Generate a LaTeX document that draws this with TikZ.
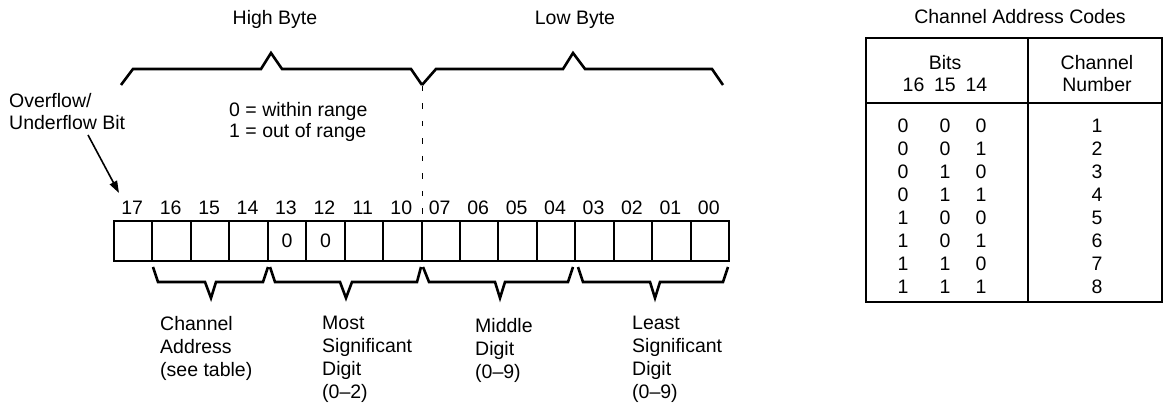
\documentclass[tikz,border=0pt]{standalone}
\usepackage{fontspec}
\setmainfont{Liberation Sans}
\usetikzlibrary{arrows.meta}
\begin{document}
\begin{tikzpicture}[x=1pt,y=-1pt,
  lbl/.style={font=\fontsize{19.5}{23}\selectfont, inner sep=0pt},
  mlbl/.style={lbl, align=left, anchor=north west},
  bitbox/.style={draw, line width=2pt, minimum width=38.44pt, minimum height=40pt, inner sep=0pt, anchor=north west},
  brace/.style={line width=2.6pt, line join=miter},
  tbl/.style={line width=2pt}]
\useasboundingbox (0,0) rectangle (1163,406);
% titles
\node[lbl, anchor=base] (hb) at (275,25) {High Byte};
\node[lbl, anchor=base] (lb) at (575,25) {Low Byte};
% top braces
\draw[brace] (121,85) -- (133,69) -- (261,69) -- (271,53) -- (282,69) -- (411,69) -- (422,85);
\draw[brace] (422,85) -- (436,69) -- (563,69) -- (573,53) -- (585,69) -- (712,69) -- (723,85);
% range text
\node[lbl, align=left, anchor=north west, font=\fontsize{19.5}{21.5}\selectfont] (rng) at (229,101.8) {0 = within range\\1 = out of range};
% overflow label
\node[lbl, align=left, anchor=north west, font=\fontsize{19.5}{22}\selectfont] (ovf) at (9,93) {Overflow/\\Underflow Bit};
\coordinate (arrs) at (88,135);
\coordinate (arre) at (119,193);
\draw[line width=1.6pt, -{Triangle[length=12pt,width=8pt]}] (arrs) -- (arre);
% dashed separator
\coordinate (dtop) at (422,86);
\coordinate (dbot) at (422,219);
\draw[line width=1pt, dash pattern=on 5.5pt off 12pt] (dtop) -- (dbot);
% bit boxes
\foreach \lab [count=\i from 0] in {17,16,15,14,13,12,11,10,07,06,05,04,03,02,01,00} {
  \node[bitbox] (b\lab) at ({113+38.44*\i},220) {};
  \node[lbl, anchor=base] (n\lab) at ({113+38.44*(\i+0.5)},215) {\lab};
}
\node[lbl] (z13) at (b13.center) {0};
\node[lbl] (z12) at (b12.center) {0};
% bottom braces
\draw[brace] (153,267) -- (158,282) -- (205,282) -- (211,298) -- (216,282) -- (263,282) -- (268,267);
\draw[brace] (270,267) -- (275,282) -- (340,282) -- (346,298) -- (352,282) -- (417,282) -- (421,267);
\draw[brace] (423,267) -- (429,282) -- (495,282) -- (500,298) -- (505,282) -- (568,282) -- (573,267);
\draw[brace] (578,267) -- (583,282) -- (650,282) -- (655,298) -- (660,282) -- (723,282) -- (728,267);
% bottom labels
\node[mlbl] (chad) at (160,315.8) {Channel\\Address\\(see table)};
\node[mlbl] (msd) at (322,315.8) {Most\\Significant\\Digit\\(0--2)};
\node[mlbl] (mid) at (475,317.8) {Middle\\Digit\\(0--9)};
\node[mlbl] (lsd) at (632,315.8) {Least\\Significant\\Digit\\(0--9)};
% table
\node[lbl, anchor=base] (ttl) at (1020,24) {Channel Address Codes};
\draw[tbl] (866,38) rectangle (1161.5,302);
\draw[tbl] (866,103) -- (1161.5,103);
\draw[tbl] (1028,38) -- (1028,302);
\node[lbl, anchor=base] (hbits) at (945,69.5) {Bits};
\node[lbl, anchor=base] (hcols) at (945,91.5) {16\,\,\,15\,\,\,14};
\node[lbl, anchor=base] (hch) at (1097,69.5) {Channel};
\node[lbl, anchor=base] (hnum) at (1097,91.5) {Number};
\foreach \a/\b/\c [count=\r from 1] in {0/0/0,0/0/1,0/1/0,0/1/1,1/0/0,1/0/1,1/1/0,1/1/1} {
  \node[lbl, anchor=base] (ra\r) at (903,{133+23*(\r-1)}) {\a};
  \node[lbl, anchor=base] (rb\r) at (945,{133+23*(\r-1)}) {\b};
  \node[lbl, anchor=base] (rc\r) at (981,{133+23*(\r-1)}) {\c};
  \node[lbl, anchor=base] (rn\r) at (1097,{133+23*(\r-1)}) {\r};
}
\end{tikzpicture}
\end{document}
